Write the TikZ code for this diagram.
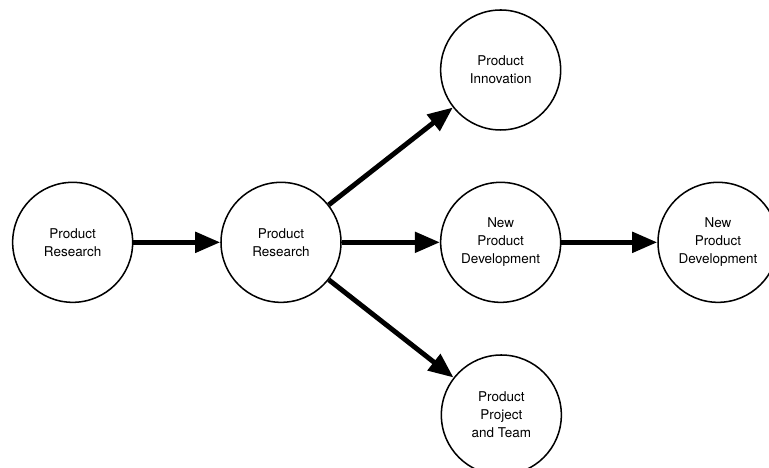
\documentclass[tikz,border=0pt]{standalone}
\usepackage{fontspec}
\setmainfont{TeX Gyre Heros}
\usetikzlibrary{arrows.meta}

\begin{document}
\begin{tikzpicture}
			\def\radius{1.8cm}
			\tikzset{
				stage/.style={circle,draw,line width=1.3pt,minimum size=2*\radius,inner sep=0pt,
					align=center,font=\fontsize{11.5}{15.5}\selectfont},
				flow/.style={line width=4.2pt,-{Triangle[length=0.75cm,width=0.6cm]}}
			}
			
			\clip (0,0) rectangle (23.07,14.04);
			\useasboundingbox (0,0) rectangle (23.07,14.04);
			
			\node[stage] (research) at (2.18,6.77) {Product\\Research};
			\node[stage] (research2) at (8.43,6.77) {Product\\Research};
			\node[stage] (innov) at (15.02,11.94) {Product\\Innovation};
			\node[stage] (newdev) at (15.02,6.77) {New\\Product\\Development};
			\node[stage] (newdev2) at (21.54,6.77) {New\\Product\\Development};
			\node[stage] (team) at (15.04,1.59) {Product\\Project\\and Team};
			
			\draw[flow] (research) -- (research2);
			\draw[flow] (research2) -- (innov);
			\draw[flow] (research2) -- (newdev);
			\draw[flow] (research2) -- (team);
			\draw[flow] (newdev) -- (newdev2);
		\end{tikzpicture}
\end{document}
